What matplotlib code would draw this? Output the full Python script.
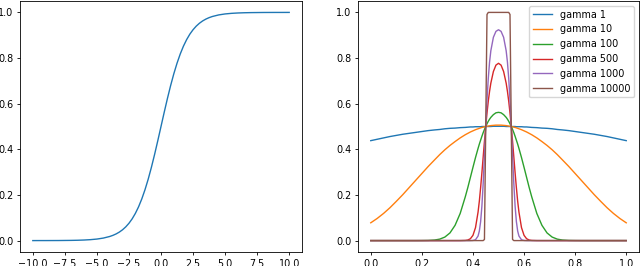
import numpy as np
import matplotlib
matplotlib.use("Agg")
import matplotlib.pyplot as plt

# left panel: logistic curve
sig_x = [-10, -9.5, -9, -8.5, -8, -7.5, -7, -6.5, -6, -5.5, -5, -4.5, -4,
         -3.75, -3.5, -3.25, -3, -2.75, -2.5, -2.25, -2, -1.75, -1.5, -1.25,
         -1, -0.75, -0.5, -0.25, 0, 0.25, 0.5, 0.75, 1, 1.25, 1.5, 1.75, 2,
         2.25, 2.5, 2.75, 3, 3.25, 3.5, 3.75, 4, 4.5, 5, 5.5, 6, 6.5, 7, 7.5,
         8, 8.5, 9, 9.5, 10]
sig_y = [0.0000, 0.0001, 0.0001, 0.0002, 0.0003, 0.0006, 0.0009, 0.0015, 0.0025,
         0.0041, 0.0067, 0.0110, 0.0180,
         0.0230, 0.0293, 0.0373, 0.0474, 0.0601, 0.0759, 0.0953, 0.1192, 0.1480,
         0.1824, 0.2227, 0.2689, 0.3208, 0.3775, 0.4378, 0.5000, 0.5622, 0.6225,
         0.6792, 0.7311, 0.7773, 0.8176, 0.8520, 0.8808, 0.9047, 0.9241, 0.9399,
         0.9526, 0.9627, 0.9707, 0.9770, 0.9820, 0.9890, 0.9933, 0.9959, 0.9975,
         0.9985, 0.9991, 0.9994, 0.9997, 0.9998, 0.9999, 0.9999, 1.0000]

# right panel: left half of each (symmetric) curve, x from 0 up to the peak at 0.5
half_x = [0, 0.025, 0.05, 0.075, 0.1, 0.125, 0.15, 0.175, 0.2, 0.225, 0.25,
          0.27, 0.29, 0.31, 0.33, 0.35, 0.37, 0.38, 0.39, 0.4, 0.41, 0.42,
          0.425, 0.43, 0.435, 0.44, 0.445, 0.45, 0.455, 0.46, 0.465, 0.47,
          0.48, 0.49, 0.5]
g1 = [0.438, 0.444, 0.450, 0.456, 0.461, 0.466, 0.470, 0.474, 0.478, 0.482,
      0.485, 0.487, 0.490, 0.492, 0.493, 0.495, 0.496, 0.497, 0.498, 0.498,
      0.499, 0.499, 0.499, 0.499, 0.500, 0.500, 0.500, 0.500, 0.500, 0.500,
      0.500, 0.500, 0.501, 0.501, 0.501]
g10 = [0.078, 0.097, 0.119, 0.144, 0.172, 0.201, 0.232, 0.263, 0.294, 0.325,
       0.354, 0.377, 0.398, 0.417, 0.434, 0.450, 0.464, 0.470, 0.476, 0.481,
       0.486, 0.490, 0.492, 0.494, 0.496, 0.497, 0.499, 0.500, 0.501, 0.502,
       0.503, 0.504, 0.505, 0.506, 0.506]
g100 = [0.0, 0.0, 0.0, 0.0, 0.0, 0.0, 0.0, 0.00003, 0.0002, 0.0007, 0.0025,
        0.0064, 0.0154, 0.0336, 0.067, 0.119, 0.192, 0.233, 0.277, 0.321,
        0.364, 0.404, 0.423, 0.440, 0.457, 0.473, 0.487, 0.500, 0.512, 0.523,
        0.532, 0.540, 0.552, 0.560, 0.562]
g500 = [0.0, 0.0, 0.0, 0.0, 0.0, 0.0, 0.0, 0.0, 0.0, 0.0, 0.0, 0.0, 0.0, 0.0,
        0.0, 0.00005, 0.0008, 0.0026, 0.0082, 0.023, 0.057, 0.125, 0.173, 0.232,
        0.297, 0.366, 0.435, 0.500, 0.559, 0.611, 0.654, 0.690, 0.741, 0.769,
        0.777]
g1000 = [0.0, 0.0, 0.0, 0.0, 0.0, 0.0, 0.0, 0.0, 0.0, 0.0, 0.0, 0.0, 0.0, 0.0,
         0.0, 0.0, 0.0, 0.00001, 0.00007, 0.0006, 0.0037, 0.020, 0.042, 0.083,
         0.151, 0.250, 0.372, 0.500, 0.617, 0.711, 0.782, 0.832, 0.891, 0.917,
         0.924]
g10000 = [0.0, 0.0, 0.0, 0.0, 0.0, 0.0, 0.0, 0.0, 0.0, 0.0, 0.0, 0.0, 0.0,
          0.0, 0.0, 0.0, 0.0, 0.0, 0.0, 0.0, 0.0, 0.0, 0.0, 0.0, 0.0, 0.00002,
          0.005, 0.500, 0.991, 1.0, 1.0, 1.0, 1.0, 1.0, 1.0]

labels = ["gamma 1", "gamma 10", "gamma 100", "gamma 500", "gamma 1000", "gamma 10000"]
series = [g1, g10, g100, g500, g1000, g10000]


def mirror(h):
    # curves are symmetric about x = 0.5
    h = np.asarray(h, dtype=float)
    return np.concatenate([h, h[-2::-1]])


bump_x = np.concatenate([np.asarray(half_x), 1 - np.asarray(half_x)[-2::-1]])

fs = 6.9
plt.rcParams.update({
    "font.size": fs,
    "axes.linewidth": 0.6,
    "xtick.major.size": 2.4,
    "ytick.major.size": 2.4,
    "xtick.major.width": 0.6,
    "ytick.major.width": 0.6,
    "xtick.major.pad": 2.4,
    "ytick.major.pad": 2.4,
    "lines.linewidth": 1.0,
})

fig = plt.figure(figsize=(6.4, 2.66), dpi=100)
ax1 = fig.add_axes([20 / 640, 14 / 266, 282 / 640, 251 / 266])
ax2 = fig.add_axes([358 / 640, 14 / 266, 281 / 640, 251 / 266])

ax1.plot(sig_x, sig_y)
ax1.set_xticks([-10, -7.5, -5, -2.5, 0, 2.5, 5, 7.5, 10])
ax1.set_yticks([0, 0.2, 0.4, 0.6, 0.8, 1.0])

for lab, ys in zip(labels, series):
    ax2.plot(bump_x, mirror(ys), label=lab)
ax2.set_xticks([0, 0.2, 0.4, 0.6, 0.8, 1.0])
ax2.set_yticks([0, 0.2, 0.4, 0.6, 0.8, 1.0])
ax2.legend(loc="upper right", fontsize=fs)

fig.savefig("out.png", dpi=100)
